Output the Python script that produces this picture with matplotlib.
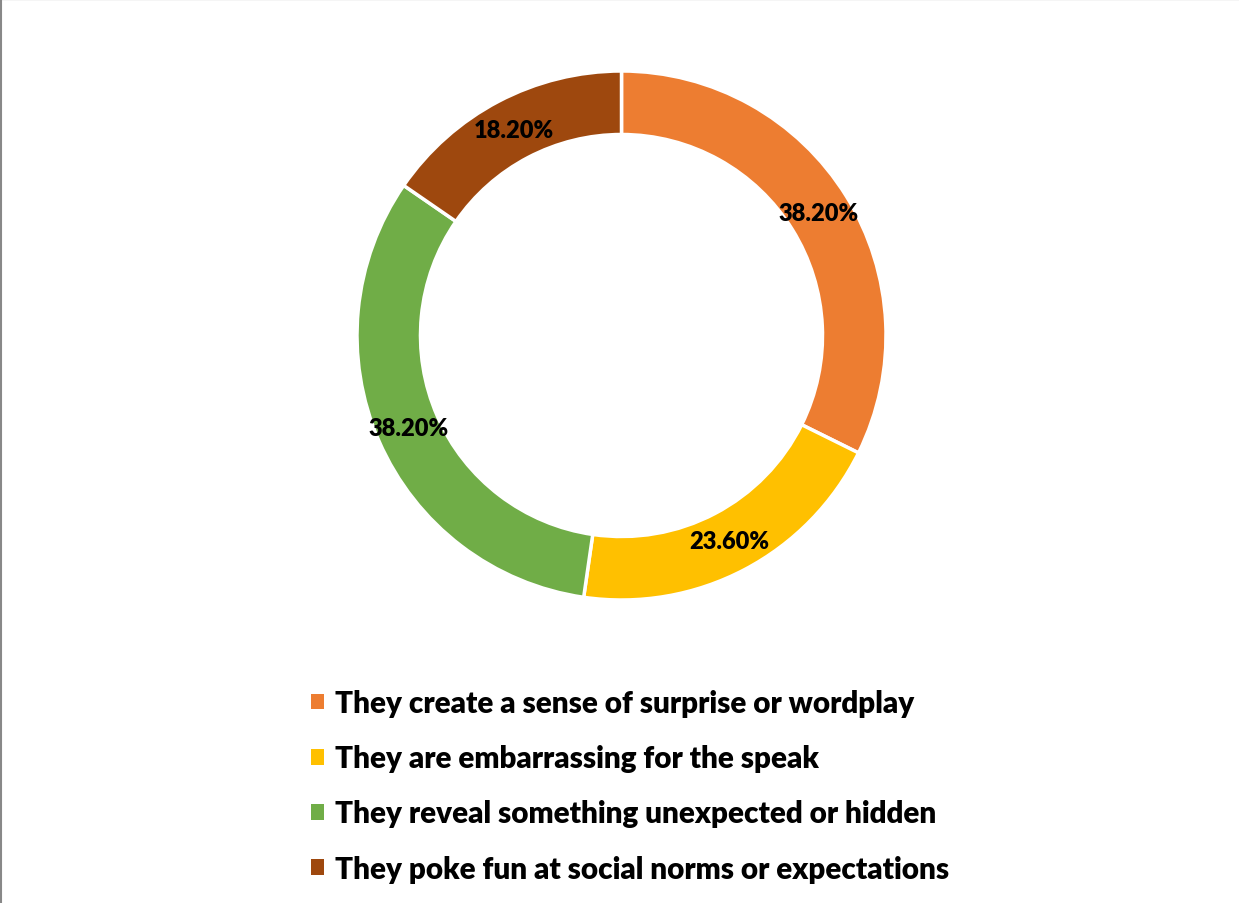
import matplotlib
matplotlib.use("Agg")
import matplotlib.pyplot as plt
from matplotlib.patches import Patch
from matplotlib.lines import Line2D
import numpy as np

plt.rcParams['font.family'] = ['Lato', 'DejaVu Sans']

# --- data ---
categories = [
    "They create a sense of surprise or wordplay",
    "They are embarrassing for the speak",
    "They reveal something unexpected or hidden",
    "They poke fun at social norms or expectations",
]
values = [38.2, 23.6, 38.2, 18.2]
labels = ["38.20%", "23.60%", "38.20%", "18.20%"]
colors = ["#ED7D31", "#FFC000", "#70AD47", "#9E480E"]

fig = plt.figure(figsize=(12.39, 9.04), dpi=100)
ax = fig.add_axes([357 / 1239, 303 / 904, 529 / 1239, 529 / 904])

wedges, _ = ax.pie(values, colors=colors, startangle=90, counterclock=False,
                   radius=1.0, wedgeprops=dict(width=0.24, edgecolor='white', linewidth=2.5))

# data labels in the middle of the ring
total = sum(values)
start = 90.0
for v, lab in zip(values, labels):
    mid = start - v / total * 360 / 2
    start -= v / total * 360
    r = 0.877
    ax.text(r * np.cos(np.radians(mid)), r * np.sin(np.radians(mid)), lab,
            ha='center', va='center', fontsize=17, fontweight='heavy', color='black')

ax.set_xlim(-1, 1)
ax.set_ylim(-1, 1)
ax.set_aspect('auto')
ax.axis('off')

handles = [Patch(facecolor=c, edgecolor='none') for c in colors]
fig.legend(handles, categories, loc='upper left', bbox_to_anchor=(311 / 1239, 1 - 690 / 904),
           frameon=False, prop=dict(size=21.3, weight='heavy'), borderpad=0, borderaxespad=0,
           handlelength=0.44, handleheight=0.44, handletextpad=0.38, labelspacing=0.92)

# chart border
fig.add_artist(Line2D([0, 1], [0.9995, 0.9995], transform=fig.transFigure, color='#1a1a1a', lw=1.5))
fig.add_artist(Line2D([0.0012, 0.0012], [0, 1], transform=fig.transFigure, color='#888888', lw=1.5))

fig.savefig("out.png", dpi=100)
